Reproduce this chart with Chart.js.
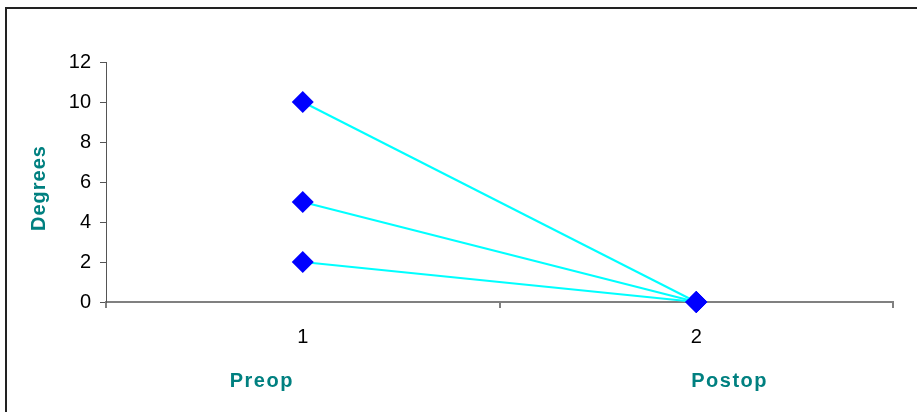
<!DOCTYPE html>
<html>
<head>
<meta charset="utf-8">
<script src="https://cdn.jsdelivr.net/npm/chart.js@4.4.1/dist/chart.umd.min.js"></script>
<style>
  html, body { margin: 0; padding: 0; background: #ffffff; }
  #wrap { position: relative; width: 917px; height: 412px; }
</style>
</head>
<body>
<div id="wrap"><canvas id="c" width="917" height="412"></canvas></div>
<script>
// Measurements per case, before and after surgery
const categories = ['1', '2'];
const groupLabels = ['Preop', 'Postop'];
const axisTitle = 'Degrees';
const caseA = [10, 0];
const caseB = [5, 0];
const caseC = [2, 0];
const yTicks = [0, 2, 4, 6, 8, 10, 12];

const LINE = '#00FFFF';
const MARK = '#0000FF';
const TEAL = '#008080';
const FONT = '"Liberation Sans", Arial, sans-serif';

function series(data) {
  return {
    data: data,
    borderColor: LINE,
    borderWidth: 2,
    pointStyle: 'rectRot',
    pointRadius: 11,
    pointHoverRadius: 11,
    pointBackgroundColor: MARK,
    pointBorderColor: MARK,
    pointBorderWidth: 0,
    tension: 0,
    fill: false,
    clip: false
  };
}

// Frame, vertical axis title and the group captions under each category
const decor = {
  id: 'decor',
  beforeDraw(chart) {
    const ctx = chart.ctx;
    ctx.save();
    ctx.strokeStyle = '#222222';
    ctx.lineWidth = 2;
    ctx.beginPath();
    ctx.moveTo(6, 412);
    ctx.lineTo(6, 8);
    ctx.lineTo(917, 8);
    ctx.stroke();
    ctx.restore();
  },
  afterDraw(chart) {
    const ctx = chart.ctx;
    const xs = chart.scales.x;
    const area = chart.chartArea;
    ctx.save();
    ctx.fillStyle = TEAL;
    ctx.font = 'bold 20px ' + FONT;
    ctx.letterSpacing = '1.5px';
    ctx.textBaseline = 'alphabetic';
    ctx.textAlign = 'left';
    const shifts = [-73, -5];
    groupLabels.forEach((t, i) => {
      const x = xs.getPixelForValue(i) + shifts[i];
      ctx.fillText(t, x, 387);
    });
    ctx.restore();

    ctx.save();
    ctx.fillStyle = TEAL;
    ctx.font = 'bold 20px ' + FONT;
    ctx.letterSpacing = '1px';
    ctx.textAlign = 'center';
    ctx.textBaseline = 'middle';
    ctx.translate(39, (area.top + area.bottom) / 2 + 6);
    ctx.rotate(-Math.PI / 2);
    ctx.fillText(axisTitle, 0, 0);
    ctx.restore();
  }
};

new Chart(document.getElementById('c'), {
  type: 'line',
  data: {
    labels: categories,
    datasets: [series(caseA), series(caseB), series(caseC)]
  },
  options: {
    responsive: false,
    animation: false,
    events: [],
    layout: { padding: { top: 62, left: 0, right: 24, bottom: 0 } },
    plugins: { legend: { display: false }, tooltip: { enabled: false } },
    scales: {
      x: {
        type: 'category',
        offset: true,
        grid: {
          display: true,
          drawOnChartArea: false,
          drawTicks: true,
          tickLength: 6,
          offset: true,
          color: '#808080',
          lineWidth: 2
        },
        border: { display: true, color: '#808080', width: 2 },
        ticks: { color: '#000000', font: { family: FONT, size: 20 }, padding: 17, maxRotation: 0 },
        afterFit(scale) { scale.height = 110; }
      },
      y: {
        min: 0,
        max: 12,
        afterBuildTicks(scale) { scale.ticks = yTicks.map(v => ({ value: v })); },
        grid: {
          display: true,
          drawOnChartArea: false,
          drawTicks: true,
          tickLength: 6,
          color: '#555555',
          lineWidth: 1
        },
        border: { display: true, color: '#555555', width: 1 },
        ticks: { color: '#000000', font: { family: FONT, size: 20 }, padding: 9 },
        afterFit(scale) { scale.width = 106; }
      }
    }
  },
  plugins: [decor]
});
</script>
</body>
</html>
